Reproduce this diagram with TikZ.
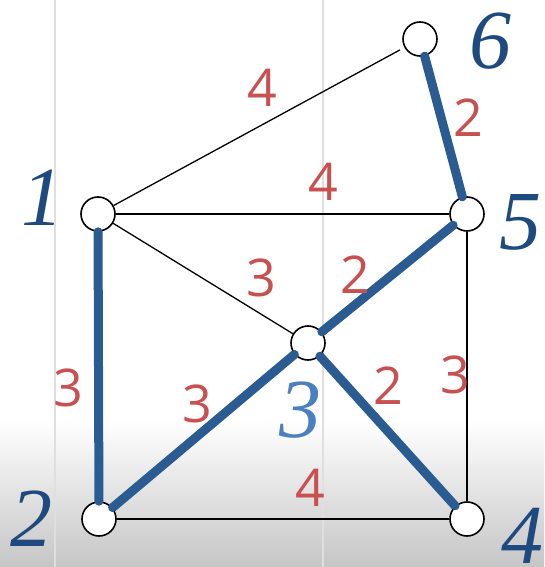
\documentclass[tikz,border=0pt]{standalone}
\usepackage{fontspec}
\setmainfont{Liberation Serif}
\newfontfamily\weightfont{Open Sans}
\usetikzlibrary{positioning}
\definecolor{treeBlue}{HTML}{2A5C91}
\definecolor{labelBlue}{HTML}{1E4A80}
\definecolor{lightBlue}{HTML}{4A80C0}
\definecolor{weightRed}{HTML}{C85050}

\begin{document}
\begin{tikzpicture}[x=1pt, y=-1pt,
    vertex/.style={circle, draw=black, line width=1.6pt, fill=white, minimum size=34pt, inner sep=0pt},
    vlabel/.style={text=labelBlue, font=\fontsize{84}{84}\selectfont\itshape},
    weight/.style={text=weightRed, font=\fontsize{52}{52}\selectfont\weightfont},
    plain/.style={draw=black, line width=1.3pt},
    tree/.style={draw=treeBlue, line width=9pt, line cap=round}]
    % background of the screenshot
    \useasboundingbox (0,0) rectangle (544,567);
    \shade[top color=white, bottom color=gray!45] (0,420) rectangle (544,567);
    \draw[gray!25, line width=2pt] (55,0) -- (55,567);
    \draw[gray!25, line width=2pt] (323,0) -- (323,567);
    % vertices
    \node[vertex] (n1) at (98,214) {};
    \node[vertex] (n2) at (99,519) {};
    \node[vertex] (n3) at (308,343) {};
    \node[vertex] (n4) at (467,519) {};
    \node[vertex] (n5) at (467,214) {};
    \node[vertex] (n6) at (420,39) {};
    % plain edges
    \draw[plain, shorten >=5pt] (n1) -- (n6);
    \draw[plain] (n1) -- (n5);
    \draw[plain] (n1) -- (n3);
    \draw[plain] (n5) -- (n4);
    \draw[plain] (n2) -- (n4);
    % spanning tree
    \draw[tree] (n1) -- (n2);
    \draw[tree] (n6) -- (n5);
    \draw[tree] (n3) -- (n5);
    \draw[tree] (n3) -- (n2);
    \draw[tree] (n3) -- (n4);
    % vertex labels
    \node[vlabel] (l1) at (42,198) {1};
    \node[vlabel] (l2) at (31,519) {2};
    \node[vlabel, text=lightBlue] (l3) at (300,410) {3};
    \node[vlabel] (l4) at (522,536) {4};
    \node[vlabel] (l5) at (520,222) {5};
    \node[vlabel] (l6) at (490,41) {6};
    % weights
    \node[weight] (w16) at (262,88) {4};
    \node[weight] (w65) at (468,118) {2};
    \node[weight] (w15) at (323,182) {4};
    \node[weight] (w13) at (261,278) {3};
    \node[weight] (w35) at (355,275) {2};
    \node[weight] (w12) at (68,388) {3};
    \node[weight] (w23) at (197,404) {3};
    \node[weight] (w34) at (388,386) {2};
    \node[weight] (w54) at (455,375) {3};
    \node[weight] (w24) at (310,488) {4};
\end{tikzpicture}
\end{document}
